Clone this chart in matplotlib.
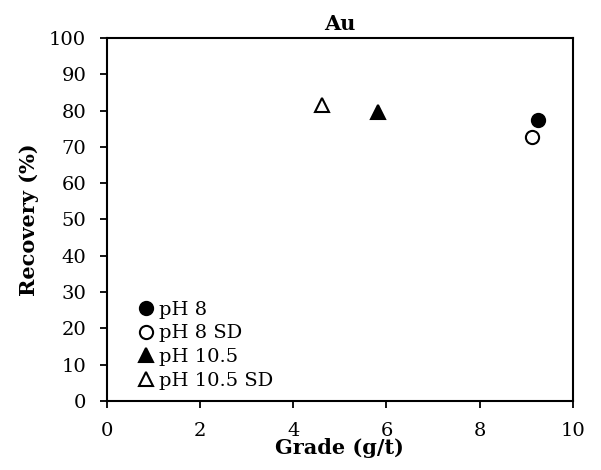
import matplotlib.pyplot as plt

# Au recovery vs grade
series = ['pH 8', 'pH 8 SD', 'pH 10.5', 'pH 10.5 SD']
grade = [9.25, 9.12, 5.82, 4.62]
recovery = [77.5, 72.6, 79.6, 81.6]
markers = ['o', 'o', '^', '^']
filled = [True, False, True, False]

plt.rcParams['font.family'] = ['DejaVu Serif']

fig = plt.figure(figsize=(6.01, 4.70), dpi=100)
ax = fig.add_axes([0.178, 0.147, 0.775, 0.772])

for name, x, y, m, f in zip(series, grade, recovery, markers, filled):
    ax.plot([x], [y], linestyle='none', marker=m, markersize=9.5,
            markerfacecolor='black' if f else 'white',
            markeredgecolor='black', markeredgewidth=1.5, label=name)

ax.set_xlim(0, 10)
ax.set_ylim(0, 100)
ax.set_xticks(range(0, 11, 2))
ax.set_yticks(range(0, 101, 10))
ax.tick_params(direction='out', length=5, width=1.3, labelsize=14)
ax.tick_params(axis='y', pad=10)
ax.tick_params(axis='x', pad=10)
for s in ax.spines.values():
    s.set_linewidth(1.5)

ax.set_title('Au', fontsize=15, fontweight='bold', pad=6)
ax.set_xlabel('Grade (g/t)', fontsize=15, fontweight='bold', labelpad=-1)
ax.set_ylabel('Recovery (%)', fontsize=15, fontweight='bold', labelpad=7)

ax.legend(loc='lower left', frameon=False, fontsize=14, handlelength=0.6,
          handletextpad=0.35, labelspacing=0.3, borderpad=0, borderaxespad=0,
          bbox_to_anchor=(0.071, 0.03))

fig.savefig('out.png', dpi=100)
